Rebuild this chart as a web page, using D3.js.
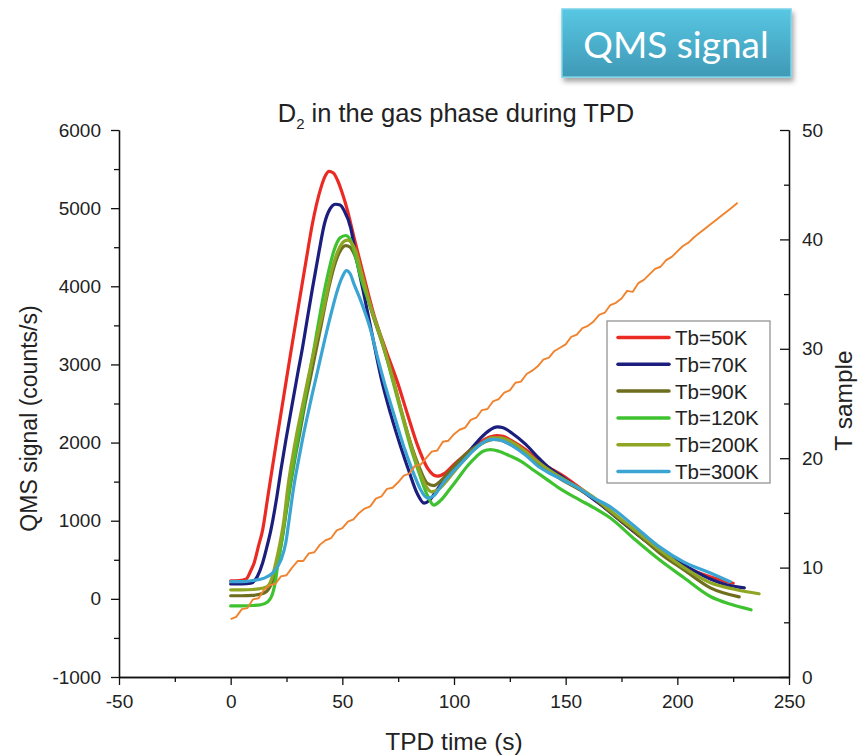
<!DOCTYPE html>
<html>
<head>
<meta charset="utf-8">
<script src="https://cdn.jsdelivr.net/npm/d3@7"></script>
<style>
  html, body { margin: 0; padding: 0; background: #fff; }
  svg { display: block; }
</style>
</head>
<body>
<svg id="chart" width="861" height="756"></svg>
<script>
// ---- D2 desorption signal (counts/s) versus TPD time (s), one series per Tb ----
const seriesNames = ["Tb=50K", "Tb=70K", "Tb=90K", "Tb=120K", "Tb=200K", "Tb=300K"];
const seriesColors = ["#ec2a24", "#1c1e7e", "#6e6e1e", "#3fc22f", "#8fa625", "#3aa5d3"];

const tb50Time = [0,4,7,9,10.5,12.5,14.3,16.5,18.5,20.6,23.8,26.9,30.6,33.6,36.6,40.3,42.5,44,46,47.8,50,52.3,55.1,59.6,64,69.4,74.6,79.1,83.6,88,92.5,96,100,104,108,112,116,119,122,126,132,138,142,148,155,165,175,185,195,205,215,225];
const tb50Signal = [230,235,255,360,460,680,880,1280,1650,2030,2600,3150,3790,4300,4800,5250,5420,5470,5450,5360,5190,4970,4640,4130,3650,3190,2780,2370,1970,1680,1570,1610,1720,1820,1920,2010,2070,2090,2080,2020,1910,1770,1690,1590,1450,1230,990,760,560,390,280,200];

const tb70Time = [0,5,9,12,14.3,16,18,20.7,22.5,24.7,27.8,30,32.2,33.6,36.6,39.6,42,44.5,47,49,50.8,53.8,56,60,64,67.6,71.6,76.1,80,83.5,86.6,89,92,96,100,104,108,112,116,119.4,122,126,132,138,142,148,155,165,175,185,195,205,215,222,230];
const tb70Signal = [190,190,200,290,460,640,880,1310,1650,2030,2530,2880,3220,3460,3970,4450,4800,4990,5050,5040,4970,4740,4400,3850,3290,2800,2370,1950,1620,1350,1225,1260,1380,1530,1670,1790,1930,2060,2160,2200,2190,2120,1980,1800,1690,1570,1430,1220,990,760,560,400,250,180,140];

const tb90Time = [0,5,10,15,17.5,19.5,21,23,24.8,26.9,28.8,30.8,33,35.5,38,40.5,43.3,46.3,49,51.5,53.5,55.5,58.5,62.7,68.6,72.5,76.5,80.5,84.5,88,91,94,98,102,106,110,114,117.5,121,125,130,136,142,148,156,163,170,181,192,203,214.8,227.7];
const tb90Signal = [40,40,45,75,150,290,460,760,1100,1480,1800,2100,2450,2800,3150,3500,3900,4250,4450,4520,4500,4400,4140,3720,3200,2830,2400,2000,1680,1480,1450,1510,1630,1760,1870,1950,2010,2040,2030,1980,1900,1770,1640,1530,1400,1280,1110,860,588,370,141,26];

const tb120Time = [0,5,10,13.5,16.5,18.9,20,21.2,22.4,23.6,25,26.6,28.5,30.5,33.5,36,38.1,40.3,43.3,46.3,49,51.5,53.5,55.2,58.2,62.7,68.6,72.5,76.5,80.5,84.5,88,91,94,98,102,106,110,113,116.4,120,125,130,136,142,148,156,163,170,181,192,203,214.8,224,233];
const tb120Signal = [-90,-90,-85,-75,-40,80,220,460,660,880,1170,1470,1800,2130,2600,2990,3330,3690,4120,4460,4620,4650,4600,4460,4120,3730,3220,2800,2370,1950,1600,1330,1200,1260,1400,1550,1700,1820,1890,1910,1890,1830,1760,1640,1520,1400,1270,1160,1035,760,500,270,30,-70,-140];

const tb200Time = [0,5,10,14,16.5,18.5,20.2,22,23.8,25.7,27.5,29.5,32,34.5,37,39.5,42.5,45.5,48.5,51,52.5,54,56,58.5,62.7,68.6,72.5,76.5,80.5,84.5,87.5,90,93,97,101,105,109,113,117,121,125,130,136,142,148,156,163,170,181,192,203,214.8,226,236.6];
const tb200Signal = [115,115,120,135,160,270,460,700,1000,1450,1780,2100,2450,2800,3130,3450,3830,4230,4480,4580,4590,4560,4450,4180,3740,3220,2830,2400,1990,1640,1440,1370,1400,1520,1660,1790,1910,2000,2060,2060,2020,1930,1790,1660,1550,1420,1290,1130,880,627,400,205,120,65];

const tb300Time = [0,5,10,15,18.7,22.4,24.7,26.2,28.4,30.5,32.3,34.3,36.3,38.8,41.1,44.8,47.8,50,51.8,53.5,55.2,58.2,62.7,65.5,68.5,73,77.5,82,85,88.1,91,95,100,104,108,112,115,118,122,126,132,138,142,147.6,155,162,170,180,192,203,214.8,223.7];
const tb300Signal = [220,220,235,265,330,490,720,1020,1460,1790,2060,2330,2590,2900,3190,3630,3950,4120,4200,4160,4030,3820,3440,3120,2800,2370,1950,1600,1400,1290,1320,1480,1640,1760,1880,1980,2030,2040,2020,1960,1840,1690,1620,1540,1430,1300,1176,950,665,470,330,220];

// ---- sample temperature (right axis) ----
const tempTime = [0,2.5,5,7.5,10,12.5,15,17.5,20,22.5,25,27.5,30,32.5,35,37.5,40,42.5,45,47.5,50,52.5,55,57.5,60,62.5,65,67.5,70,72.5,75,77.5,80,82.5,85,87.5,90,92.5,95,97.5,100,102.5,105,107.5,110,112.5,115,117.5,120,122.5,125,127.5,130,132.5,135,137.5,140,142.5,145,147.5,150,152.5,155,157.5,160,162.5,165,167.5,170,172.5,175,177.5,180,182.5,185,187.5,190,192.5,195,197.5,200,202.5,205,207.5,210,212.5,215,217.5,220,222.5,225,227];
const tempSample = [5.3,5.5,6.2,6.3,7.1,7.2,8.0,8.4,8.5,9.2,9.3,10.0,10.6,10.6,11.3,11.4,12.1,12.5,12.7,13.4,13.6,14.2,14.4,15.0,15.4,15.6,16.3,16.5,17.2,17.3,17.8,18.4,18.6,19.3,19.4,20.0,20.6,20.7,21.5,21.6,22.2,22.6,22.8,23.5,23.7,24.4,24.5,25.2,25.4,26.0,26.2,26.9,27.0,27.7,28.0,28.4,29.0,29.2,29.8,30.1,30.4,31.1,31.3,31.9,32.1,32.5,33.1,33.3,34.0,34.2,34.6,35.3,35.2,36.0,36.3,36.8,37.3,37.5,38.1,38.4,38.9,39.4,39.7,40.2,40.6,41.0,41.4,41.8,42.2,42.6,43.0,43.35];

// ---- axis ticks ----
const xTicks = [-50, 0, 50, 100, 150, 200, 250];
const xMinorTicks = [-25, 25, 75, 125, 175, 225];
const yTicks = [-1000, 0, 1000, 2000, 3000, 4000, 5000, 6000];
const yMinorTicks = [-500, 500, 1500, 2500, 3500, 4500, 5500];
const tTicks = [0, 10, 20, 30, 40, 50];
const tMinorTicks = [5, 15, 25, 35, 45];

const seriesData = [
  [tb50Time, tb50Signal],
  [tb70Time, tb70Signal],
  [tb90Time, tb90Signal],
  [tb120Time, tb120Signal],
  [tb200Time, tb200Signal],
  [tb300Time, tb300Signal]
].map(([ts, vs]) => ts.map((t, i) => ({ t, v: vs[i] })));
const tempData = tempTime.map((t, i) => ({ t, v: tempSample[i] }));

const svg = d3.select("#chart");
const FONT = "'Liberation Sans', Arial, sans-serif";
const plot = { left: 119, right: 789, top: 130, bottom: 677 };

const x = d3.scaleLinear().domain([-50, 250]).range([plot.left, plot.right]);
const y = d3.scaleLinear().domain([-1000, 6000]).range([plot.bottom, plot.top]);
const yT = d3.scaleLinear().domain([0, 50]).range([plot.bottom, plot.top]);
const plain = d => String(d);

// ---- header badge ----
const defs = svg.append("defs");
const grad = defs.append("linearGradient").attr("id", "badgeGrad")
  .attr("x1", 0).attr("y1", 0).attr("x2", 0).attr("y2", 1);
grad.append("stop").attr("offset", "0%").attr("stop-color", "#58c7e3");
grad.append("stop").attr("offset", "100%").attr("stop-color", "#3f99b6");
const shadow = defs.append("filter").attr("id", "badgeShadow")
  .attr("x", "-10%").attr("y", "-20%").attr("width", "130%").attr("height", "160%");
shadow.append("feDropShadow").attr("dx", 2).attr("dy", 4).attr("stdDeviation", 2.5)
  .attr("flood-color", "#000").attr("flood-opacity", 0.35);

svg.append("rect").attr("x", 562).attr("y", 9).attr("width", 229).attr("height", 68)
  .attr("fill", "url(#badgeGrad)").attr("stroke", "#79d2e8").attr("stroke-width", 1.5)
  .attr("filter", "url(#badgeShadow)");
svg.append("text").attr("x", 676).attr("y", 58).attr("text-anchor", "middle")
  .attr("font-family", "Lato, 'Open Sans', sans-serif").attr("font-size", 37)
  .attr("fill", "#fff").text("QMS signal");

// ---- axes ----
function styleAxis(g) {
  g.selectAll("path, line").attr("stroke", "#111").attr("stroke-width", 1.3);
  g.selectAll("text").attr("font-family", FONT).attr("font-size", 19).attr("fill", "#222");
}

svg.append("g").attr("transform", `translate(0,${plot.bottom})`)
  .call(d3.axisBottom(x).tickValues(xMinorTicks).tickSize(5).tickSizeOuter(0).tickFormat(""))
  .call(styleAxis);
svg.append("g").attr("transform", `translate(0,${plot.bottom})`)
  .call(d3.axisBottom(x).tickValues(xTicks).tickSize(8).tickSizeOuter(0).tickPadding(10).tickFormat(plain))
  .call(styleAxis);

svg.append("g").attr("transform", `translate(${plot.left},0)`)
  .call(d3.axisLeft(y).tickValues(yMinorTicks).tickSize(5).tickSizeOuter(0).tickFormat(""))
  .call(styleAxis);
svg.append("g").attr("transform", `translate(${plot.left},0)`)
  .call(d3.axisLeft(y).tickValues(yTicks).tickSize(8).tickSizeOuter(0).tickPadding(10).tickFormat(plain))
  .call(styleAxis);

svg.append("g").attr("transform", `translate(${plot.right},0)`)
  .call(d3.axisRight(yT).tickValues(tMinorTicks).tickSize(-5).tickSizeOuter(0).tickFormat(""))
  .call(styleAxis);
svg.append("g").attr("transform", `translate(${plot.right},0)`)
  .call(d3.axisRight(yT).tickValues(tTicks).tickSize(-9).tickSizeOuter(0).tickPadding(13).tickFormat(plain))
  .call(styleAxis);

// ---- titles ----
const title = svg.append("text").attr("x", 456).attr("y", 122).attr("text-anchor", "middle")
  .attr("font-family", FONT).attr("font-size", 25.5).attr("fill", "#222");
title.append("tspan").text("D");
title.append("tspan").attr("font-size", 15).attr("dy", 7).text("2");
title.append("tspan").attr("dy", -7).text(" in the gas phase during TPD");

svg.append("text").attr("x", 454).attr("y", 750).attr("text-anchor", "middle")
  .attr("font-family", FONT).attr("font-size", 24.5).attr("fill", "#222").text("TPD time (s)");
svg.append("text").attr("transform", `translate(37,${(plot.top + plot.bottom) / 2 + 15}) rotate(-90)`)
  .attr("text-anchor", "middle")
  .attr("font-family", FONT).attr("font-size", 23).attr("fill", "#222").text("QMS signal (counts/s)");
svg.append("text").attr("transform", `translate(852,${(plot.top + plot.bottom) / 2 - 3}) rotate(-90)`)
  .attr("text-anchor", "middle")
  .attr("font-family", FONT).attr("font-size", 24.5).attr("fill", "#222").text("T sample");

// ---- signal curves ----
const line = d3.line().x(d => x(d.t)).y(d => y(d.v)).curve(d3.curveMonotoneX);
const curves = svg.append("g").attr("fill", "none").attr("stroke-linejoin", "round").attr("stroke-linecap", "round");
seriesData.forEach((data, i) => {
  curves.append("path").datum(data).attr("d", line)
    .attr("stroke", seriesColors[i]).attr("stroke-width", 3.2);
});

// ---- sample temperature ----
const tLine = d3.line().x(d => x(d.t)).y(d => yT(d.v));
svg.append("path").datum(tempData).attr("d", tLine)
  .attr("fill", "none").attr("stroke", "#f0832e").attr("stroke-width", 1.9)
  .attr("stroke-linejoin", "round");

// ---- legend ----
const legend = svg.append("g").attr("transform", "translate(607,321)");
legend.append("rect").attr("width", 163).attr("height", 162)
  .attr("fill", "#fff").attr("stroke", "#8a8a8a").attr("stroke-width", 1.2);
seriesNames.forEach((name, i) => {
  const ry = 16.5 + i * 26.8;
  legend.append("line").attr("x1", 11).attr("x2", 62).attr("y1", ry).attr("y2", ry)
    .attr("stroke", seriesColors[i]).attr("stroke-width", 3.5).attr("stroke-linecap", "round");
  legend.append("text").attr("x", 68).attr("y", ry).attr("dominant-baseline", "central")
    .attr("font-family", FONT).attr("font-size", 20.5).attr("fill", "#222").text(name);
});
</script>
</body>
</html>
